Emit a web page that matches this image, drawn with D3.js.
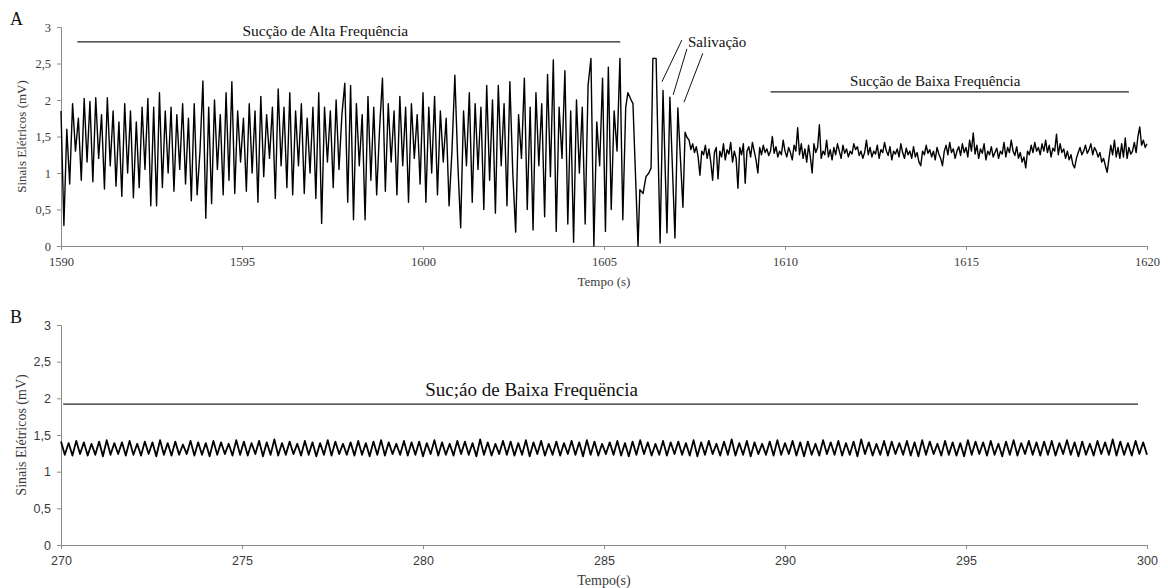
<!DOCTYPE html>
<html>
<head>
<meta charset="utf-8">
<script src="https://cdn.jsdelivr.net/npm/d3@7"></script>
<style>
  body { margin: 0; background: white; }
</style>
</head>
<body>
<div id="display"></div>
<script>
// --- data ---
const yTicks = [0, 0.5, 1, 1.5, 2, 2.5, 3];
const xTicksA = [1590, 1595, 1600, 1605, 1610, 1615, 1620];
const xTicksB = [270, 275, 280, 285, 290, 295, 300];

// panel A, high frequency suction (one sample every 0.08 s from 1590 s)
const hfStart = 1590, hfStep = 0.08;
const hfValues = [
  1.85, 0.28, 1.6, 0.85, 1.95, 1.3, 1.75, 0.9, 2.02, 1.15,
  1.98, 0.88, 2.03, 1.2, 1.8, 0.78, 2.03, 1.1, 1.85, 0.82,
  1.7, 0.68, 1.95, 1.0, 1.85, 0.66, 1.7, 0.8, 1.9, 1.05,
  2.02, 0.55, 1.9, 0.55, 2.1, 0.8, 1.85, 1.0, 1.9, 0.75,
  1.8, 1.05, 1.95, 0.85, 1.75, 0.62, 1.95, 0.7, 1.3, 2.26,
  0.38, 1.9, 0.58, 2.0, 1.05, 1.8, 0.7, 2.1, 0.9, 2.25,
  0.72, 1.85, 1.15, 1.75, 0.75, 1.95, 1.0, 1.85, 0.6, 2.05,
  0.95, 1.8, 1.2, 1.9, 0.65, 2.15, 1.1, 1.9, 0.8, 2.1,
  0.7, 1.85, 1.1, 1.95, 0.72, 1.75, 1.0, 1.9, 0.65, 2.1,
  0.31, 1.9, 1.15, 1.85, 0.8, 2.0, 1.05, 1.8, 2.23, 0.6,
  2.2, 0.36, 1.95, 1.1, 1.8, 0.36, 2.05, 0.9, 1.9, 0.7,
  1.6, 2.3, 0.75, 1.95, 1.15, 1.85, 0.7, 2.05, 1.1, 1.9,
  0.6, 1.95, 1.2, 1.8, 0.85, 2.1, 0.6, 1.9, 1.0, 2.05,
  0.7, 1.85, 1.15, 1.75, 0.55, 1.3, 2.34, 1.15, 0.25, 1.85,
  1.1, 2.1, 0.6, 1.95, 1.05, 1.9, 0.5, 2.2, 0.9, 2.0,
  0.45, 2.2, 1.1, 1.95, 0.55, 2.25, 1.0, 0.19, 1.8, 1.2,
  2.3, 0.5, 1.9, 0.22, 2.1, 1.1, 1.95, 0.4, 2.35, 0.95,
  2.55, 0.2, 1.9, 1.2, 2.4, 0.3, 1.85, 0.05, 2.0, 1.0,
  1.9, 0.3, 2.2, 2.57, 0.0, 1.7, 1.1, 2.3, 0.2, 2.45,
  0.5, 1.85, 1.3, 2.57, 0.36, 1.9
];

// panel A, salivation bursts (irregular, so time and value kept together)
const salTimes = [1605.66, 1605.75, 1605.80, 1605.94, 1605.99, 1606.08, 1606.16, 1606.24, 1606.30, 1606.35,
  1606.44, 1606.46, 1606.55, 1606.63, 1606.74, 1606.82, 1606.96, 1607.04, 1607.18, 1607.24, 1607.29];
const salValues = [2.1, 2.0, 1.95, 0.0, 0.77, 0.72, 0.95, 1.0, 1.07, 2.57,
  2.57, 2.1, 0.04, 2.13, 0.18, 2.04, 0.11, 1.89, 0.53, 1.56, 1.49];

// panel A, low frequency suction (one sample every 0.05 s)
const lfStart = 1607.35, lfStep = 0.05;
const lfValues = [
  1.45, 1.32, 1.4, 1.28, 1.36, 1.22, 0.97, 1.3, 1.25, 1.38,
  1.2, 1.33, 1.15, 0.9, 1.28, 1.35, 0.92, 1.3, 1.22, 1.4,
  1.18, 1.32, 1.26, 1.42, 1.15, 1.3, 1.2, 0.79, 1.35, 1.25,
  1.4, 0.86, 1.3, 1.36, 1.22, 1.42, 1.3, 1.18, 1.0, 1.35,
  1.25, 1.38, 1.28, 1.33, 1.24, 1.3, 1.5, 1.27, 1.36, 1.22,
  1.3, 1.25, 1.45, 1.3, 1.22, 1.35, 1.28, 1.18, 1.38, 1.3,
  1.62, 1.25, 1.4, 1.2, 1.33, 1.15, 1.38, 1.22, 1.0, 1.4,
  1.28, 1.35, 1.66, 1.2, 1.3, 1.25, 1.45, 1.22, 1.32, 1.18,
  1.35, 1.25, 1.4, 1.3, 1.2, 1.38, 1.27, 1.33, 1.22, 1.3,
  1.26, 1.4, 1.32, 1.36, 1.24, 1.3, 1.2, 1.28, 1.45, 1.25,
  1.35, 1.22, 1.3, 1.26, 1.38, 1.2, 1.32, 1.28, 1.42, 1.3,
  1.24, 1.36, 1.18, 1.3, 1.26, 1.33, 1.22, 1.4, 1.28, 1.2,
  1.34, 1.25, 1.3, 1.2, 1.36, 1.22, 1.28, 1.15, 1.1, 1.3,
  1.25, 1.38, 1.27, 1.32, 1.22, 1.3, 1.18, 1.35, 1.26, 1.2,
  1.1, 1.3, 1.38, 1.25, 1.42, 1.28, 1.33, 1.2, 1.3, 1.36,
  1.24, 1.4, 1.28, 1.35, 1.22, 1.45, 1.3, 1.55, 1.26, 1.38,
  1.2, 1.33, 1.27, 1.4, 1.18, 1.3, 1.25, 1.36, 1.22, 1.28,
  1.34, 1.2, 1.3, 1.26, 1.42, 1.22, 1.35, 1.28, 1.45, 1.3,
  1.24, 1.36, 1.2, 1.28, 1.15, 1.22, 1.07, 1.3, 1.25, 1.38,
  1.28, 1.42, 1.3, 1.35, 1.25, 1.4, 1.3, 1.45, 1.28, 1.38,
  1.22, 1.34, 1.3, 1.53, 1.25, 1.4, 1.28, 1.33, 1.2, 1.3,
  1.18, 1.25, 1.12, 1.07, 1.2, 1.28, 1.35, 1.25, 1.3, 1.38,
  1.27, 1.32, 1.4, 1.25, 1.35, 1.3, 1.22, 1.28, 1.15, 1.2,
  1.1, 1.01, 1.2, 1.38, 1.25, 1.45, 1.22, 1.35, 1.2, 1.4,
  1.22, 1.48, 1.2, 1.35, 1.26, 1.3, 1.42, 1.28, 1.5, 1.63,
  1.38, 1.45, 1.35, 1.4
];

// panel B, regular low frequency suction (peak / trough pairs)
const bStart = 270, bStep = 30 / 285;
const bValues = [
  1.41,1.23, 1.39,1.22, 1.42,1.24, 1.40,1.22, 1.38,1.23, 1.41,1.21, 1.43,1.23, 1.39,1.24, 1.40,1.22, 1.42,1.23,
  1.38,1.22, 1.41,1.24, 1.40,1.21, 1.43,1.23, 1.39,1.22, 1.41,1.23, 1.37,1.24, 1.42,1.22, 1.40,1.23, 1.39,1.21,
  1.42,1.23, 1.40,1.24, 1.38,1.22, 1.43,1.23, 1.41,1.22, 1.39,1.24, 1.42,1.21, 1.40,1.23, 1.44,1.22, 1.39,1.23,
  1.41,1.24, 1.38,1.22, 1.42,1.23, 1.40,1.21, 1.39,1.23, 1.43,1.22, 1.41,1.24, 1.38,1.23, 1.40,1.22, 1.42,1.23,
  1.39,1.21, 1.41,1.23, 1.43,1.22, 1.40,1.24, 1.38,1.23, 1.42,1.22, 1.40,1.23, 1.41,1.21, 1.39,1.24, 1.43,1.22,
  1.40,1.23, 1.38,1.22, 1.42,1.24, 1.41,1.23, 1.39,1.21, 1.44,1.23, 1.40,1.22, 1.38,1.24, 1.42,1.23, 1.41,1.22,
  1.39,1.23, 1.43,1.21, 1.40,1.24, 1.42,1.22, 1.38,1.23, 1.41,1.22, 1.39,1.24, 1.42,1.23, 1.40,1.21, 1.43,1.23,
  1.41,1.22, 1.38,1.24, 1.40,1.23, 1.42,1.22, 1.39,1.21, 1.41,1.23, 1.43,1.24, 1.40,1.22, 1.38,1.23, 1.42,1.22,
  1.40,1.24, 1.41,1.23, 1.39,1.22, 1.43,1.21, 1.40,1.23, 1.42,1.24, 1.38,1.22, 1.41,1.23, 1.44,1.22, 1.39,1.23,
  1.42,1.21, 1.40,1.24, 1.38,1.23, 1.41,1.22, 1.43,1.23, 1.39,1.24, 1.42,1.22, 1.40,1.21, 1.41,1.23, 1.38,1.22,
  1.43,1.24, 1.40,1.23, 1.42,1.22, 1.39,1.23, 1.41,1.21, 1.44,1.24, 1.40,1.22, 1.38,1.23, 1.42,1.22, 1.41,1.24,
  1.39,1.23, 1.42,1.22, 1.40,1.21, 1.43,1.23, 1.41,1.24, 1.38,1.22, 1.42,1.23, 1.40,1.22, 1.39,1.21, 1.43,1.23,
  1.41,1.24, 1.40,1.22, 1.42,1.23, 1.38,1.21, 1.41,1.23, 1.43,1.22, 1.39,1.24, 1.42,1.23, 1.40,1.22, 1.41,1.23,
  1.42,1.22, 1.39,1.24, 1.43,1.23, 1.40,1.21, 1.41,1.23, 1.38,1.22, 1.42,1.24, 1.40,1.23, 1.44,1.22, 1.41,1.23,
  1.39,1.22, 1.42,1.24, 1.40,1.23
];

// --- drawing ---
const svg = d3.select('#display')
  .append('svg')
  .attr('width', 1168)
  .attr('height', 588);

const serif = '"Liberation Serif", "DejaVu Serif", serif';
const sans = '"Liberation Sans", Arial, sans-serif';
const axisColor = '#8a8a8a';
const textColor = '#3a3a3a';

const commaFmt = d => String(d).replace('.', ',');

function Panel(top, bottom, xDomain, xTicks, tickFont, tickSize){
  this.x = d3.scaleLinear().domain(xDomain).range([61, 1147]);
  this.y = d3.scaleLinear().domain([0, 3]).range([bottom, top]);
  this.g = svg.append('g');

  const yAxis = this.g.append('g')
    .attr('transform', 'translate(61,0)')
    .call(d3.axisLeft(this.y).tickValues(yTicks).tickFormat(commaFmt).tickSize(4).tickPadding(6));
  const xAxis = this.g.append('g')
    .attr('transform', `translate(0,${bottom})`)
    .call(d3.axisBottom(this.x).tickValues(xTicks).tickFormat(d3.format('d')).tickSize(4).tickPadding(7));

  [yAxis, xAxis].forEach(a => {
    a.select('.domain').attr('stroke', axisColor);
    a.selectAll('.tick line').attr('stroke', axisColor);
    a.selectAll('.tick text')
      .attr('fill', textColor)
      .attr('font-family', tickFont)
      .attr('font-size', tickSize + 'px');
  });

  this.line = function (data, width){
    this.g.append('path')
      .datum(data)
      .attr('fill', 'none')
      .attr('stroke', '#000')
      .attr('stroke-width', width)
      .attr('stroke-linejoin', 'round')
      .attr('d', d3.line().x(d => this.x(d.t)).y(d => this.y(d.v)));
  };

  this.hbar = function (t0, t1, v){
    this.g.append('line')
      .attr('x1', this.x(t0)).attr('x2', this.x(t1))
      .attr('y1', this.y(v)).attr('y2', this.y(v))
      .attr('stroke', '#222').attr('stroke-width', 1.2);
  };

  this.label = function (t, v, txt, size, anchor){
    this.g.append('text')
      .attr('x', this.x(t)).attr('y', this.y(v))
      .attr('text-anchor', anchor || 'middle')
      .attr('font-family', serif)
      .attr('font-size', size + 'px')
      .attr('fill', '#111')
      .text(txt);
  };

  this.titles = function (letter, xTitle, yTitle, fs){
    svg.append('text')
      .attr('x', 10).attr('y', top - 2)
      .attr('font-family', serif).attr('font-size', '18px').attr('fill', '#111')
      .text(letter);
    svg.append('text')
      .attr('x', 604).attr('y', bottom + 40)
      .attr('text-anchor', 'middle')
      .attr('font-family', serif).attr('font-size', fs + 'px').attr('fill', textColor)
      .text(xTitle);
    svg.append('text')
      .attr('transform', `translate(26,${(top + bottom) / 2}) rotate(-90)`)
      .attr('text-anchor', 'middle')
      .attr('font-family', serif).attr('font-size', fs + 'px').attr('fill', textColor)
      .text(yTitle);
  };
}

// panel A
const seriesA = hfValues.map((v, i) => ({t: hfStart + i * hfStep, v: v}))
  .concat(salTimes.map((t, i) => ({t: t, v: salValues[i]})))
  .concat(lfValues.map((v, i) => ({t: lfStart + i * lfStep, v: v})));

const panelA = new Panel(27, 246, [1590, 1620], xTicksA, serif, 12.5);
panelA.line(seriesA, 1.4);
panelA.titles('A', 'Tempo (s)', 'Sinais Elétricos (mV)', 13);

panelA.hbar(1590.45, 1605.45, 2.795);
panelA.label(1597.3, 2.88, 'Sucção de Alta Frequência', 15.5);
panelA.hbar(1609.6, 1619.5, 2.11);
panelA.label(1614.15, 2.19, 'Sucção de Baixa Frequência', 15);
panelA.label(1607.32, 2.73, 'Salivação', 15, 'start');

const pointers = [
  {t0: 1607.15, v0: 2.82, t1: 1606.60, v1: 2.25},
  {t0: 1607.29, v0: 2.70, t1: 1606.91, v1: 2.07},
  {t0: 1607.73, v0: 2.64, t1: 1607.21, v1: 1.97}
];
panelA.g.selectAll('.pointer')
  .data(pointers)
  .enter().append('line')
  .attr('x1', d => panelA.x(d.t0)).attr('y1', d => panelA.y(d.v0))
  .attr('x2', d => panelA.x(d.t1)).attr('y2', d => panelA.y(d.v1))
  .attr('stroke', '#111').attr('stroke-width', 1);

// panel B
const seriesB = bValues.map((v, i) => ({t: bStart + i * bStep, v: v}));

const panelB = new Panel(325, 545, [270, 300], xTicksB, sans, 12.5);
panelB.line(seriesB, 1.8);
panelB.titles('B', 'Tempo(s)', 'Sinais Elétricos (mV)', 14);
panelB.hbar(270.06, 299.75, 1.92);
panelB.label(283.0, 2.03, 'Suc;áo de Baixa Frequëncia', 19);
</script>
</body>
</html>
